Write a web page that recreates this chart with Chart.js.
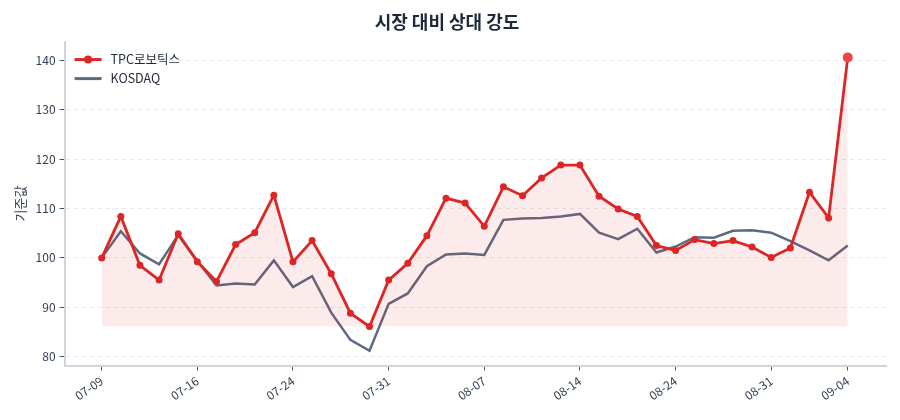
<!DOCTYPE html>
<html>
<head>
<meta charset="utf-8">
<script src="https://cdn.jsdelivr.net/npm/chart.js@4.4.1/dist/chart.umd.min.js"></script>
<style>
  html, body { margin: 0; padding: 0; background: #fff; }
  #wrap { width: 900px; height: 420px; position: relative; }
</style>
</head>
<body>
<div id="wrap"><canvas id="rsChart" width="900" height="420"></canvas></div>
<script>
// trading dates (MM-DD)
const dates = [
  '07-09', '07-10', '07-11', '07-14', '07-15', '07-16', '07-17', '07-18', '07-21', '07-22',
  '07-24', '07-25', '07-28', '07-29', '07-30', '07-31', '08-01', '08-04', '08-05', '08-06',
  '08-07', '08-08', '08-11', '08-12', '08-13', '08-14', '08-18', '08-19', '08-20', '08-22',
  '08-24', '08-25', '08-26', '08-27', '08-28', '08-31', '09-01', '09-02', '09-03', '09-04'
];

// rebased to 100 on first day
const tpcValues = [
  100.0, 108.4, 98.5, 95.5, 104.9, 99.2, 95.2, 102.7, 105.1, 112.7,
  99.2, 103.5, 96.8, 88.8, 86.1, 95.5, 98.9, 104.5, 112.1, 111.1,
  106.4, 114.4, 112.6, 116.2, 118.8, 118.8, 112.5, 109.9, 108.4, 102.5,
  101.5, 103.7, 102.9, 103.5, 102.2, 100.1, 102.0, 113.3, 108.1, 140.6
];
const kosdaqValues = [
  100.0, 105.4, 100.9, 98.7, 104.6, 99.4, 94.4, 94.8, 94.6, 99.5,
  94.1, 96.3, 88.9, 83.4, 81.2, 90.7, 92.8, 98.3, 100.7, 100.9,
  100.6, 107.7, 108.0, 108.1, 108.4, 108.9, 105.1, 103.8, 105.9, 101.1,
  102.3, 104.2, 104.1, 105.5, 105.6, 105.1, 103.4, 101.5, 99.5, 102.5
];
const tickIndexes = [0, 5, 10, 15, 20, 25, 30, 35, 39];
const yTicks = [80, 90, 100, 110, 120, 130, 140];

const RED = '#dc2626';
const SLATE = '#5c6b82';
const FONT = "'Noto Sans CJK KR', 'Noto Sans', sans-serif";

const lastIdx = tpcValues.length - 1;
const tpcPoints = tpcValues.map((v, i) => ({ x: i, y: v }));
const kosdaqPoints = kosdaqValues.map((v, i) => ({ x: i, y: v }));

// legend drawn inside the plot, top-left
const innerLegend = {
  id: 'innerLegend',
  afterDraw(chart) {
    const ctx = chart.ctx;
    const x0 = chart.chartArea.left + 10;
    const y0 = chart.chartArea.top + 18;
    const items = [
      { label: 'TPC로보틱스', color: RED, dot: true },
      { label: 'KOSDAQ', color: SLATE, dot: false }
    ];
    ctx.save();
    items.forEach((it, k) => {
      const y = y0 + k * 19;
      ctx.strokeStyle = it.color;
      ctx.lineWidth = 3;
      ctx.beginPath();
      ctx.moveTo(x0, y);
      ctx.lineTo(x0 + 27, y);
      ctx.stroke();
      if (it.dot) {
        ctx.fillStyle = it.color;
        ctx.beginPath();
        ctx.arc(x0 + 13.5, y, 4, 0, Math.PI * 2);
        ctx.fill();
      }
      ctx.fillStyle = '#1f2937';
      ctx.font = '12.5px ' + FONT;
      ctx.textBaseline = 'middle';
      ctx.fillText(it.label, x0 + 36, y);
    });
    ctx.restore();
  }
};

new Chart(document.getElementById('rsChart'), {
  type: 'line',
  data: {
    datasets: [
      {
        label: 'TPC로보틱스',
        data: tpcPoints,
        borderColor: RED,
        borderWidth: 2.8,
        backgroundColor: 'rgba(220, 38, 38, 0.09)',
        fill: { value: Math.min(...tpcValues) },
        pointRadius: tpcValues.map((v, i) => i === lastIdx ? 5 : 3.5),
        pointBackgroundColor: tpcValues.map((v, i) => i === lastIdx ? '#ef4444' : RED),
        pointBorderWidth: 0,
        tension: 0,
        order: 1
      },
      {
        label: 'KOSDAQ',
        data: kosdaqPoints,
        borderColor: SLATE,
        borderWidth: 2.5,
        pointRadius: 0,
        fill: false,
        tension: 0,
        order: 2
      }
    ]
  },
  options: {
    responsive: false,
    animation: false,
    layout: { padding: { left: 8, right: 14, top: 4, bottom: 14 } },
    plugins: {
      legend: { display: false },
      tooltip: { enabled: false },
      title: {
        display: true,
        text: '시장 대비 상대 강도',
        color: '#1e293b',
        font: { family: FONT, size: 18, weight: 'bold' },
        padding: { top: 7, bottom: 9 }
      }
    },
    scales: {
      x: {
        type: 'linear',
        min: -1.94,
        max: 41.0,
        afterBuildTicks(axis) {
          axis.ticks = tickIndexes.map(v => ({ value: v }));
        },
        ticks: {
          callback: v => dates[v],
          minRotation: 35,
          maxRotation: 35,
          color: '#334155',
          font: { family: FONT, size: 12 },
          padding: 3
        },
        grid: {
          drawOnChartArea: false,
          drawTicks: true,
          tickLength: 5,
          tickColor: '#475569'
        },
        border: { color: '#d1d5db', width: 2 }
      },
      y: {
        min: 78.2,
        max: 143.8,
        afterBuildTicks(axis) {
          axis.ticks = yTicks.map(v => ({ value: v }));
        },
        ticks: {
          color: '#334155',
          font: { family: FONT, size: 12 },
          padding: 4
        },
        title: {
          display: true,
          text: '기준값',
          color: '#334155',
          font: { family: FONT, size: 13 },
          padding: { bottom: 4 }
        },
        grid: {
          color: '#e5e7eb',
          tickBorderDash: [],
          tickLength: 5,
          tickColor: '#475569'
        },
        border: { color: '#d1d5db', width: 2, dash: [4, 4] }
      }
    }
  },
  plugins: [innerLegend]
});
</script>
</body>
</html>
